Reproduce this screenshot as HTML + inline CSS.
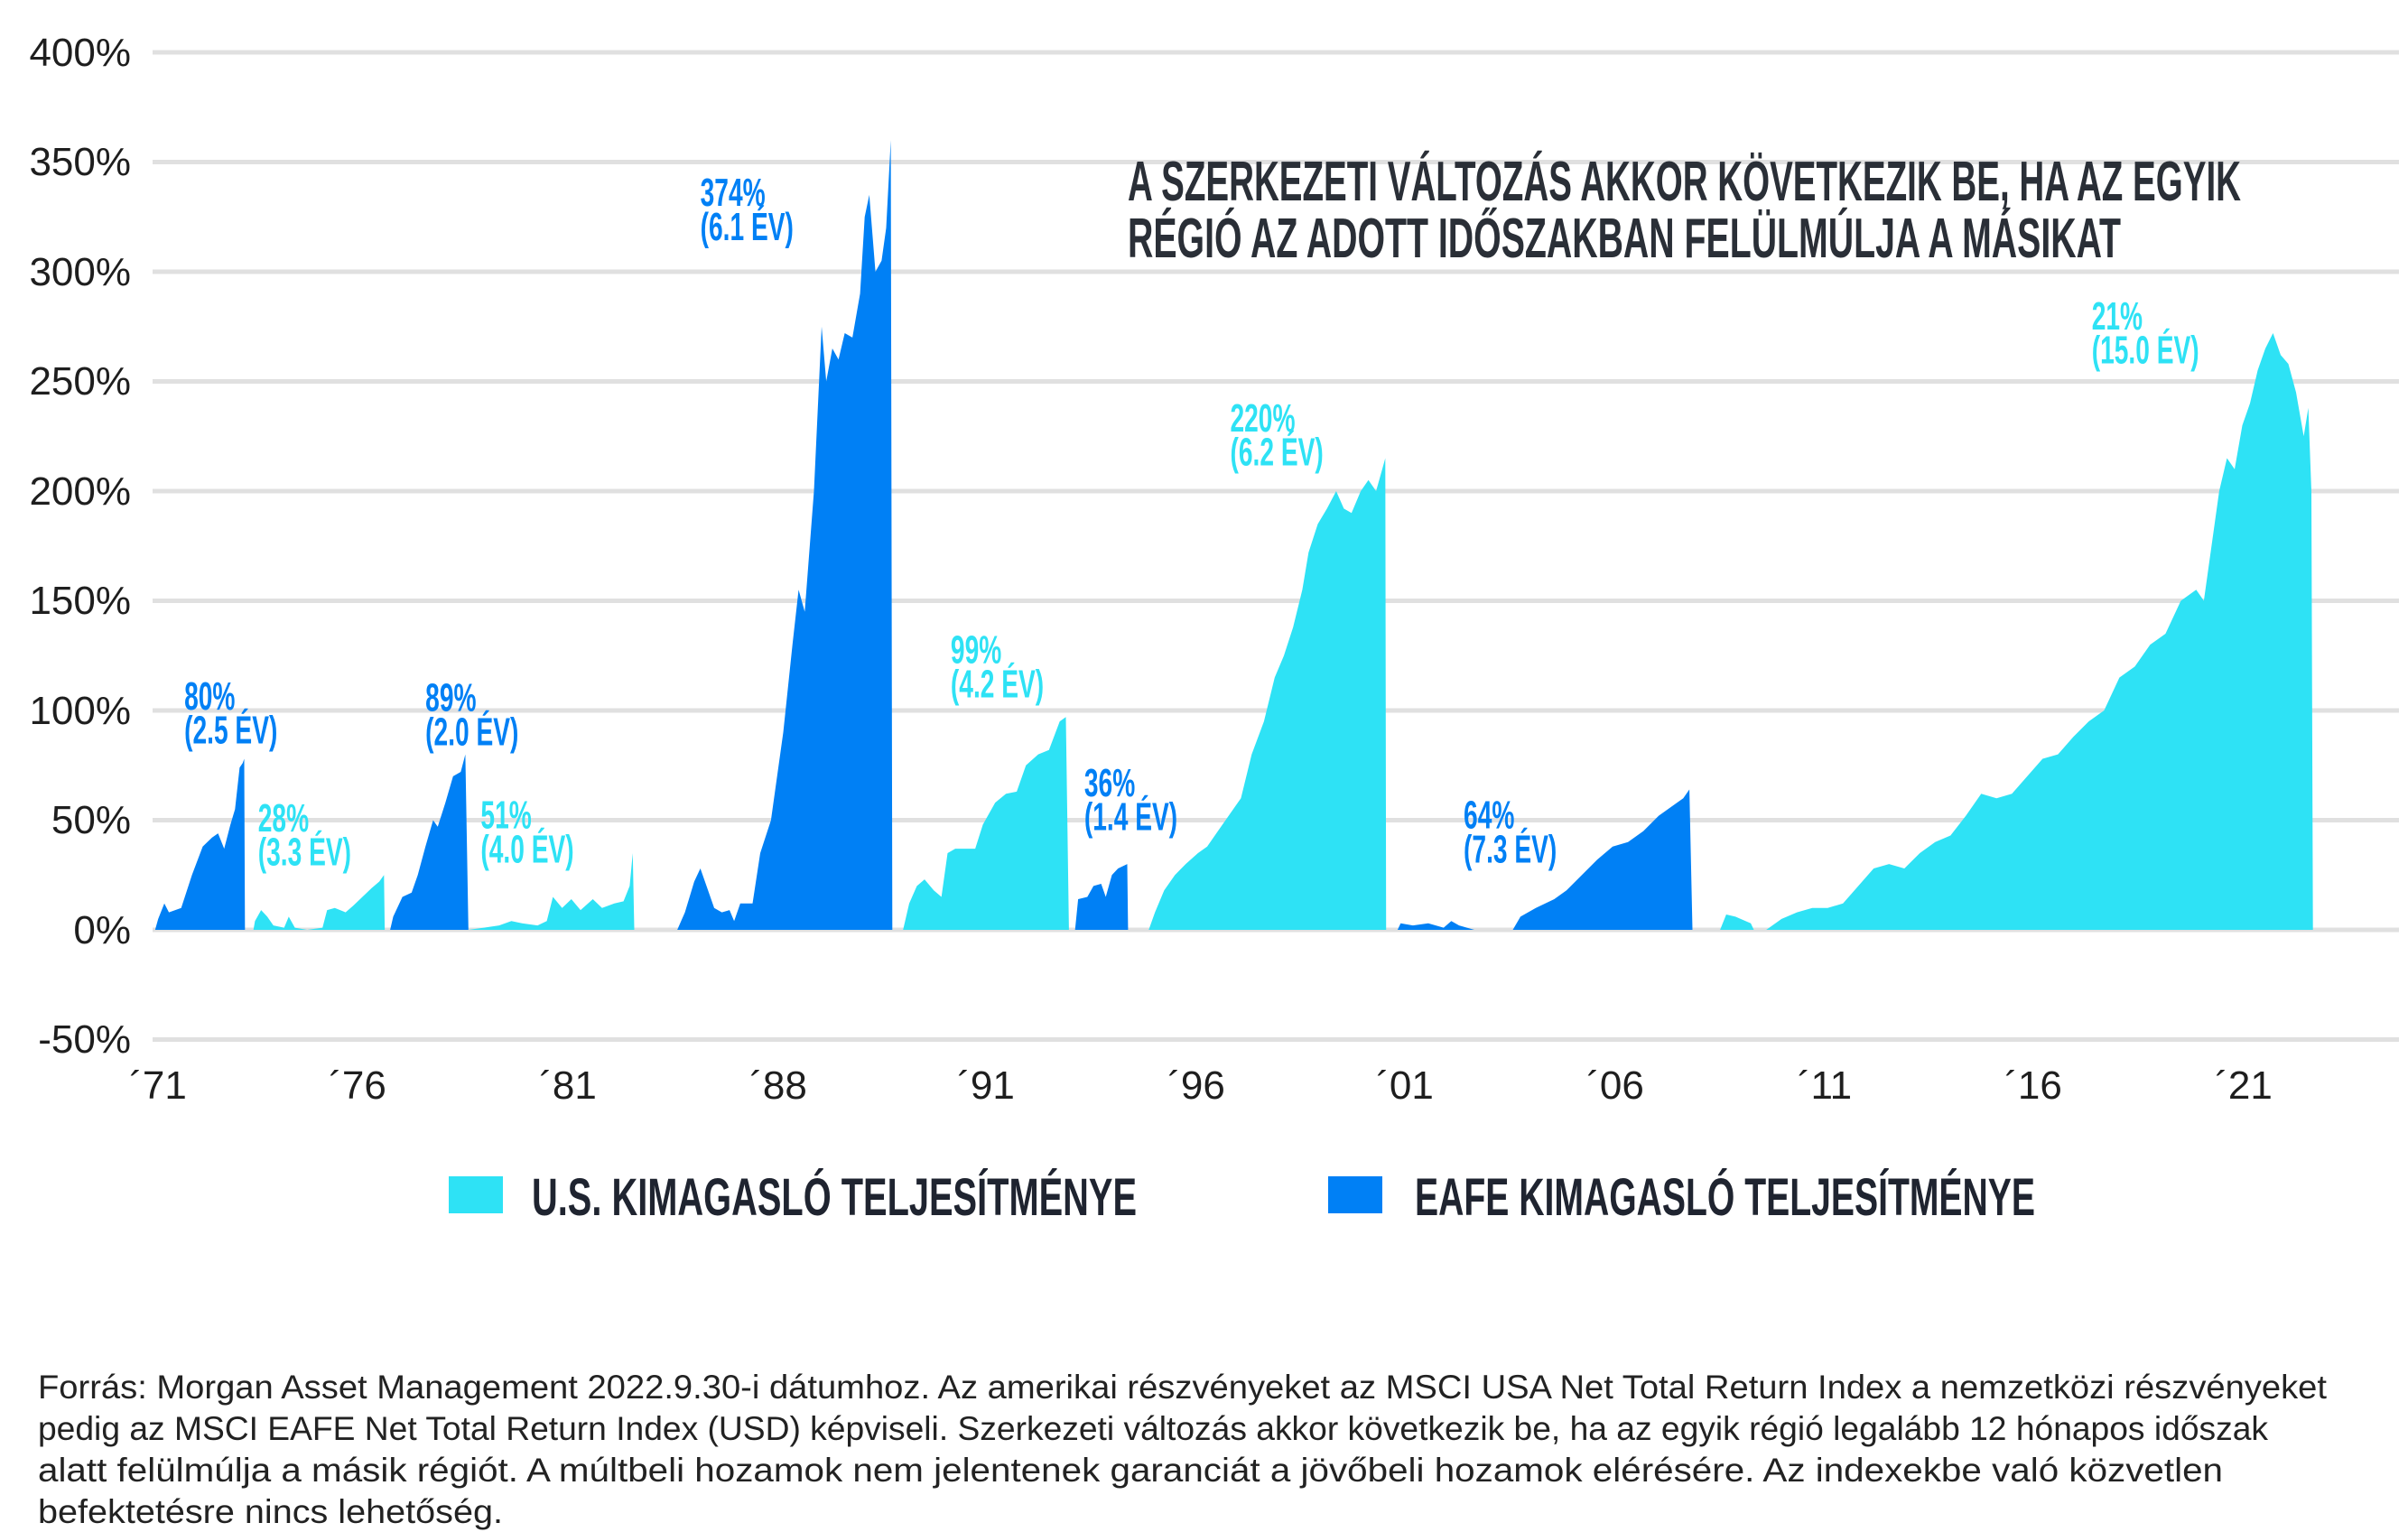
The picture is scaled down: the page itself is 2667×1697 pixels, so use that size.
<!DOCTYPE html>
<html><head><meta charset="utf-8">
<style>
html,body{margin:0;padding:0;background:#fff;}
svg{display:block;}
.cond{font-family:"Liberation Sans Narrow","Liberation Sans",sans-serif;font-weight:bold;}
.ax{font-family:"Liberation Sans",sans-serif;font-size:44px;fill:#1e1e1e;}
.foot{font-family:"Liberation Sans",sans-serif;font-size:37px;fill:#222;}
</style></head>
<body>
<svg id="s" width="2667" height="1697" viewBox="0 0 2667 1697" xmlns="http://www.w3.org/2000/svg">
<g id="grid" stroke="#e0e0e0" stroke-width="5"></g>
<g id="series"></g>
<g class="ax" text-anchor="end">
<text x="145" y="73">400%</text>
<text x="145" y="194">350%</text>
<text x="145" y="316">300%</text>
<text x="145" y="437">250%</text>
<text x="145" y="559">200%</text>
<text x="145" y="680">150%</text>
<text x="145" y="802">100%</text>
<text x="145" y="923">50%</text>
<text x="145" y="1045">0%</text>
<text x="145" y="1166">-50%</text>
</g>
<g class="ax" text-anchor="middle">
<text x="175" y="1217">´71</text>
<text x="396" y="1217">´76</text>
<text x="629" y="1217">´81</text>
<text x="862" y="1217">´88</text>
<text x="1092" y="1217">´91</text>
<text x="1325" y="1217">´96</text>
<text x="1556" y="1217">´01</text>
<text x="1789" y="1217">´06</text>
<text x="2021" y="1217">´11</text>
<text x="2252" y="1217">´16</text>
<text x="2485" y="1217">´21</text>
</g>
<g class="cond" fill="#2a2f37" font-size="62">
<text x="1249" y="222" textLength="1233" lengthAdjust="spacingAndGlyphs">A SZERKEZETI VÁLTOZÁS AKKOR KÖVETKEZIK BE, HA AZ EGYIK</text>
<text x="1249" y="285" textLength="1100" lengthAdjust="spacingAndGlyphs">RÉGIÓ AZ ADOTT IDŐSZAKBAN FELÜLMÚLJA A MÁSIKAT</text>
</g>
<g class="cond" font-size="44" id="lbl"></g>
<rect x="497" y="1303" width="60" height="41" fill="#2ee2f5"/>
<rect x="1471" y="1303" width="60" height="41" fill="#0080f5"/>
<g class="cond" fill="#1f2430" font-size="58">
<text x="589" y="1346" textLength="670" lengthAdjust="spacingAndGlyphs">U.S. KIMAGASLÓ TELJESÍTMÉNYE</text>
<text x="1567" y="1346" textLength="687" lengthAdjust="spacingAndGlyphs">EAFE KIMAGASLÓ TELJESÍTMÉNYE</text>
</g>
<g class="foot">
<text x="42" y="1549" textLength="2535" lengthAdjust="spacingAndGlyphs">Forrás: Morgan Asset Management 2022.9.30-i dátumhoz. Az amerikai részvényeket az MSCI USA Net Total Return Index a nemzetközi részvényeket</text>
<text x="42" y="1595" textLength="2470" lengthAdjust="spacingAndGlyphs">pedig az MSCI EAFE Net Total Return Index (USD) képviseli. Szerkezeti változás akkor következik be, ha az egyik régió legalább 12 hónapos időszak</text>
<text x="42" y="1641" textLength="2420" lengthAdjust="spacingAndGlyphs">alatt felülmúlja a másik régiót. A múltbeli hozamok nem jelentenek garanciát a jövőbeli hozamok elérésére. Az indexekbe való közvetlen</text>
<text x="42" y="1687" textLength="515" lengthAdjust="spacingAndGlyphs">befektetésre nincs lehetőség.</text>
</g>
</svg>
<script>
var NS="http://www.w3.org/2000/svg";
function Y(v){return 1030-v*2.43;}
function X(x){return x*1.701;}
var g=document.getElementById('grid');
for(var i=0;i<10;i++){var v=400-50*i;var l=document.createElementNS(NS,'line');
l.setAttribute('x1',169);l.setAttribute('x2',2657);l.setAttribute('y1',Y(v));l.setAttribute('y2',Y(v));g.appendChild(l);}
var C='#2ee2f5',B='#0080f5';
var S=[
[B,[[101,0],[103,5],[107,12],[110,8],[118,10],[125,25],[132,38],[138,42],[142,44],[146,37],[150,48],[153,55],[156,74],[158,76],[159,78],[159.5,0]]],
[C,[[165,0],[166,4],[170,9],[174,6],[178,2],[185,1],[188,6],[192,1],[200,0],[210,1],[213,9],[218,10],[225,8],[230,11],[236,15],[242,19],[247,22],[250,25],[250.5,0]]],
[B,[[254,0],[256,6],[262,15],[268,17],[272,25],[277,38],[282,50],[285,47],[290,58],[295,70],[300,72],[303,80],[305,0]]],
[C,[[305,0],[315,1],[325,2],[333,4],[340,3],[350,2],[356,4],[360,15],[366,10],[372,14],[378,9],[386,14],[392,10],[400,12],[406,13],[410,20],[412,35],[413,0]]],
[B,[[441,0],[446,8],[452,22],[456,28],[460,20],[465,10],[470,8],[475,9],[478,4],[482,12],[490,12],[495,35],[502,50],[510,90],[516,130],[520,155],[524,145],[530,200],[535,275],[538,250],[542,265],[546,260],[550,272],[555,270],[560,290],[563,325],[566,335],[570,300],[574,305],[577,320],[580,360],[581,0]]],
[C,[[588,0],[592,12],[597,20],[602,23],[608,18],[613,15],[617,35],[622,37],[635,37],[640,48],[648,58],[655,62],[662,63],[668,75],[676,80],[683,82],[690,95],[694,97],[696,0]]],
[B,[[700,0],[702,14],[708,15],[712,20],[717,21],[720,15],[724,25],[728,28],[734,30],[734.5,0]]],
[C,[[748,0],[752,8],[758,18],[765,25],[772,30],[780,35],[786,38],[793,45],[800,52],[808,60],[815,80],[823,95],[830,115],[836,125],[842,138],[848,155],[852,172],[858,185],[864,192],[870,200],[875,192],[880,190],[886,200],[891,205],[896,200],[900,210],[902,215],[902.5,0]]],
[B,[[910,0],[912,3],[920,2],[930,3],[940,1],[945,4],[950,2],[960,0],[985,0],[990,6],[1000,10],[1012,14],[1020,18],[1030,25],[1040,32],[1050,38],[1060,40],[1070,45],[1080,52],[1090,57],[1096,60],[1100,64],[1102,0]]],
[C,[[1120,0],[1124,7],[1130,6],[1140,3],[1142,0],[1150,0],[1160,5],[1170,8],[1180,10],[1190,10],[1200,12],[1210,20],[1220,28],[1230,30],[1240,28],[1250,35],[1260,40],[1270,43],[1280,52],[1290,62],[1300,60],[1310,62],[1320,70],[1330,78],[1340,80],[1350,88],[1360,95],[1370,100],[1380,115],[1390,120],[1400,130],[1410,135],[1420,150],[1430,155],[1435,150],[1440,175],[1445,200],[1450,215],[1455,210],[1460,230],[1465,240],[1470,255],[1475,265],[1480,272],[1485,262],[1490,258],[1495,245],[1500,225],[1503,238],[1505,200],[1506,0]]]
];
var sg=document.getElementById('series');
S.forEach(function(s){var p=s[1];var d='M'+X(p[0][0])+','+Y(0);
p.forEach(function(q){d+=' L'+X(q[0]).toFixed(1)+','+Y(q[1]).toFixed(1);});
d+=' L'+X(p[p.length-1][0])+','+Y(0)+' Z';
var e=document.createElementNS(NS,'path');e.setAttribute('d',d);e.setAttribute('fill',s[0]);sg.appendChild(e);});
var L=[[120,450,'80%','(2.5 ÉV)',B],[168,529,'28%','(3.3 ÉV)',C],
[277,451,'89%','(2.0 ÉV)',B],[313,527,'51%','(4.0 ÉV)',C],
[456,124,'374%','(6.1 ÉV)',B],[619,420,'99%','(4.2 ÉV)',C],
[706,506,'36%','(1.4 ÉV)',B],[801,270,'220%','(6.2 ÉV)',C],
[953,527,'64%','(7.3 ÉV)',B],[1362,204,'21%','(15.0 ÉV)',C]];
var lg=document.getElementById('lbl');
var sx=0.64;
function T(x,y,s,c){var t=document.createElementNS(NS,'text');t.setAttribute('x',X(x)/sx);t.setAttribute('y',y*1.711+16);t.setAttribute('transform','scale('+sx+',1)');t.setAttribute('fill',c);t.textContent=s;lg.appendChild(t);}
L.forEach(function(a){T(a[0],a[1],a[2],a[4]);T(a[0],a[1]+22,a[3],a[4]);});
</script>
</body></html>
